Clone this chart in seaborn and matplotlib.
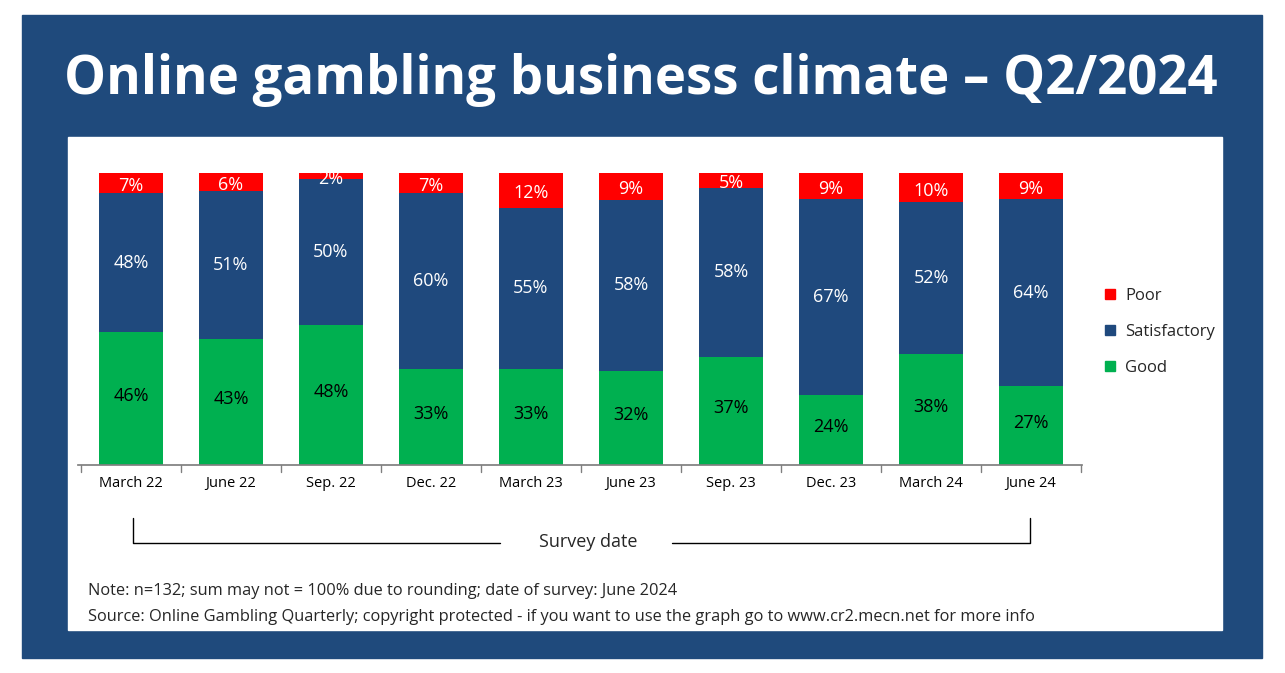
import numpy as np
import pandas as pd
import matplotlib
matplotlib.use('Agg')
import matplotlib.pyplot as plt
import seaborn as sns
from matplotlib.patches import Rectangle
from matplotlib.lines import Line2D

dates = ['March 22', 'June 22', 'Sep. 22', 'Dec. 22', 'March 23', 'June 23',
         'Sep. 23', 'Dec. 23', 'March 24', 'June 24']
good = [46, 43, 48, 33, 33, 32, 37, 24, 38, 27]
satisfactory = [48, 51, 50, 60, 55, 58, 58, 67, 52, 64]
poor = [7, 6, 2, 7, 12, 9, 5, 9, 10, 9]

GREEN = '#00B050'
BLUE = '#1F497D'
RED = '#FF0000'
PANEL = '#1F4A7C'

sns.set_theme(style='white')
plt.rcParams['font.family'] = ['Open Sans', 'DejaVu Sans']

df = pd.DataFrame({'date': dates, 'Good': good, 'Satisfactory': satisfactory, 'Poor': poor})
tot = df[['Good', 'Satisfactory', 'Poor']].sum(axis=1)
# bars fill to 100% in the original, so scale each column
g = df['Good'] / tot * 100
s = df['Satisfactory'] / tot * 100
p = df['Poor'] / tot * 100

W, H = 1285, 673
fig = plt.figure(figsize=(W / 100, H / 100), dpi=100)
fig.patch.set_facecolor('white')
fig.patches.append(Rectangle((22 / W, 1 - 658 / H), 1240 / W, 643 / H,
                             transform=fig.transFigure, color=PANEL, zorder=0))
fig.patches.append(Rectangle((68 / W, 1 - 630 / H), 1154 / W, 493 / H,
                             transform=fig.transFigure, color='white', zorder=1))
fig.text(641 / W, 1 - 80 / H, 'Online gambling business climate \u2013 Q2/2024',
         ha='center', va='center', color='white', fontsize=38, fontweight='bold')

ax = fig.add_axes([78 / W, 1 - 465 / H, 1004 / W, 292 / H])
ax.set_zorder(5)
ax.set_facecolor('none')
x = np.arange(len(dates))
wd = 0.64
sns.barplot(x=df['date'], y=g, color=GREEN, width=wd, ax=ax, saturation=1, linewidth=0)
ax.bar(x, s, bottom=g, color=BLUE, width=wd, linewidth=0)
ax.bar(x, p, bottom=g + s, color=RED, width=wd, linewidth=0)

for i in range(len(dates)):
    ax.text(i, g[i] / 2 + 1, f'{good[i]}%', ha='center', va='center', color='black', fontsize=13)
    ax.text(i, g[i] + s[i] / 2, f'{satisfactory[i]}%', ha='center', va='center', color='white', fontsize=13)
    ax.text(i, g[i] + s[i] + p[i] / 2 - 1, f'{poor[i]}%', ha='center', va='center', color='white', fontsize=13)

ax.set_xlim(-0.53, 9.51)
ax.set_ylim(0, 100)
ax.set_yticks([])
ax.set_xlabel('')
ax.set_ylabel('')
for sp in ['top', 'right', 'left']:
    ax.spines[sp].set_visible(False)
ax.spines['bottom'].set_color('#808080')
ax.set_xticks(x)
ax.set_xticklabels(dates, fontsize=10.5, color='black')
ax.tick_params(axis='x', length=0, pad=8)
for b in np.arange(-0.5, 10, 1):
    ax.plot([b, b], [0, -2.5], color='#808080', lw=1, clip_on=False)

# survey date bracket
def fx(px):
    return px / W
def fy(py):
    return 1 - py / H
fig.lines.append(Line2D([fx(133), fx(133), fx(500)], [fy(518), fy(543), fy(543)],
                        transform=fig.transFigure, color='black', lw=1, zorder=3))
fig.lines.append(Line2D([fx(672), fx(1030), fx(1030)], [fy(543), fy(543), fy(518)],
                        transform=fig.transFigure, color='black', lw=1, zorder=3))
fig.text(fx(588), fy(542), 'Survey date', ha='center', va='center', fontsize=13, zorder=3)

handles = [Rectangle((0, 0), 1, 1, color=RED), Rectangle((0, 0), 1, 1, color=BLUE),
           Rectangle((0, 0), 1, 1, color=GREEN)]
leg = fig.legend(handles, ['Poor', 'Satisfactory', 'Good'], loc='center left',
                 bbox_to_anchor=(fx(1090), fy(332)), frameon=False, fontsize=12,
                 handlelength=0.6, handleheight=0.6, labelspacing=1.2, handletextpad=0.6)
leg.set_zorder(5)

fig.text(fx(88), fy(591), 'Note: n=132; sum may not = 100% due to rounding; date of survey: June 2024',
         ha='left', va='center', fontsize=11.8, zorder=3)
fig.text(fx(88), fy(617), 'Source: Online Gambling Quarterly; copyright protected - if you want to use the graph go to www.cr2.mecn.net for more info',
         ha='left', va='center', fontsize=11.8, zorder=3)

fig.savefig('out.png', dpi=100, facecolor='white')
